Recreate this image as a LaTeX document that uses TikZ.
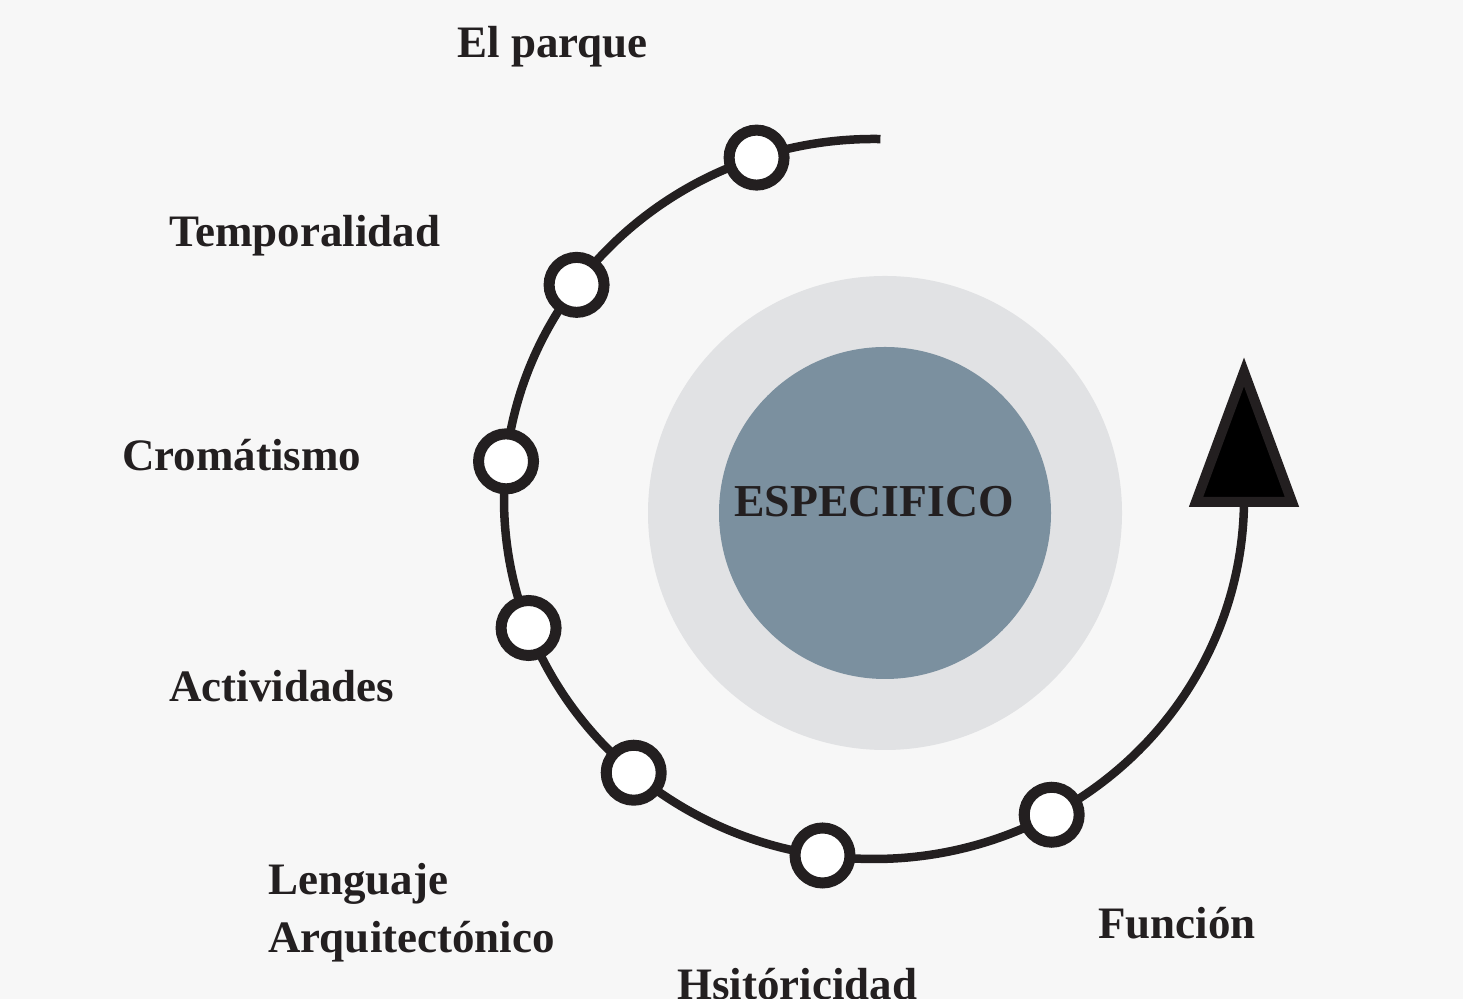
\documentclass[tikz,border=0pt]{standalone}
\usepackage{fontspec}
\setmainfont{Liberation Serif}
\usetikzlibrary{calc}
\definecolor{fondo}{HTML}{F7F7F7}
\definecolor{tinta}{HTML}{231F20}
\definecolor{anillo}{HTML}{E1E2E4}
\definecolor{nucleo}{HTML}{7B909F}

\begin{document}
\begin{tikzpicture}[x=0.02cm,y=0.02cm,
  marca/.style={circle,draw=tinta,line width=0.22cm,fill=white,minimum size=1.1cm,inner sep=0pt},
  etiqueta/.style={anchor=base west,inner sep=0pt,text=tinta,font=\bfseries\fontsize{25.6}{33}\selectfont}]
 \fill[fondo] (0,0) rectangle (1463,999); %fondo
 \useasboundingbox (0,0) rectangle (1463,999);

 \coordinate (C) at (885,486); %centro de los circulos
 \fill[anillo] (C) circle[radius=237];
 \fill[nucleo] (C) circle[radius=166];
 \node[anchor=base,inner sep=0pt,text=tinta,font=\bfseries\fontsize{26}{30}\selectfont]
   (especifico) at (874,482) {ESPECIFICO};

 \coordinate (E) at (874,500); %centro de la espiral
 \draw[tinta,line width=0.17cm] ($(E)+(89:370 and 360)$) coordinate (inicio)
   arc[start angle=89,end angle=360,x radius=370,y radius=360] coordinate (fin);
 \foreach \a [count=\i] in {108.5,143.5,174,201,229.5,262,298.7}
   \node[marca] (m\i) at ($(E)+(\a:370 and 360)$) {};
 \draw[tinta,line width=0.2cm,fill=black,line join=miter]
   ($(fin)+(-48,-3)$) -- ($(fin)+(0,127)$) -- ($(fin)+(48,-3)$) -- cycle; %flecha

 \node[etiqueta] (parque) at (457,941) {El parque};
 \node[etiqueta] (temporalidad) at (169,752) {Temporalidad};
 \node[etiqueta] (cromatismo) at (122,528) {Cromátismo};
 \node[etiqueta] (actividades) at (169,297) {Actividades};
 \node[etiqueta,anchor=north west,align=left] (lenguaje) at (268,136) {Lenguaje\\Arquitectónico};
 \node[etiqueta] (funcion) at (1098,60) {Función};
 \node[etiqueta] (historicidad) at (677,-1) {Hsitóricidad};
\end{tikzpicture}
\end{document}
